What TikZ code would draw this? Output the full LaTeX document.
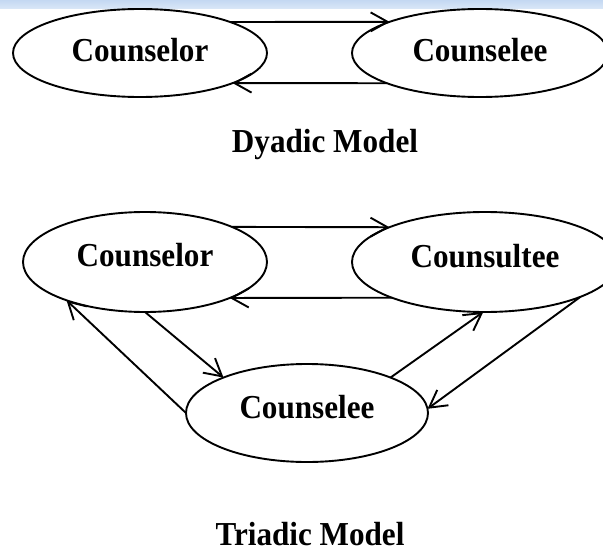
\documentclass[tikz,border=0pt]{standalone}
\usepackage{fontspec}
\setmainfont{Liberation Serif}[FakeStretch=0.93]
\usetikzlibrary{arrows.meta,shapes.geometric}
\definecolor{bartop}{RGB}{196,216,242}
\definecolor{barbot}{RGB}{216,230,247}
\begin{document}
\begin{tikzpicture}[x=1pt,y=-1pt,
  oval/.style={draw,ellipse,line width=1.9pt,inner sep=0pt,outer sep=0pt,
    font=\fontsize{33.5}{38}\selectfont\bfseries},
  title/.style={inner sep=0pt,anchor=base,font=\fontsize{33.5}{38}\selectfont\bfseries},
  link/.style={line width=1.9pt,-{Straight Barb[length=17pt,width=19pt,line width=1.9pt]}}]
\useasboundingbox (0,0) rectangle (603,554);
\fill[top color=bartop,bottom color=barbot] (0,0) rectangle (603,8);
% Dyadic
\node[oval,minimum width=254pt,minimum height=88pt,text depth=6pt] (cl1) at (140,53) {Counselor};
\node[oval,minimum width=256pt,minimum height=88pt,text depth=6pt] (ce1) at (480,53) {Counselee};
\draw[link] (cl1.19) -- (ce1.161);
\draw[link] (ce1.-162) -- (cl1.-18);
\node[title] (t1) at (325,152) {Dyadic Model};
% Triadic
\node[oval,minimum width=244pt,minimum height=100pt,text depth=14pt] (cl2) at (145,262) {Counselor};
\node[oval,minimum width=266pt,minimum height=100pt,text depth=12pt] (ct2) at (485,262) {Counsultee};
\node[oval,minimum width=242pt,minimum height=98pt,text depth=12pt] (ce2) at (307,413) {Counselee};
\draw[link] (cl2.22) -- (ct2.160);
\draw[link] (ct2.-159) -- (cl2.-23);
\draw[link] (cl2.-90) -- (ce2.157);
\draw[link] (ce2.180) -- (cl2.-154);
\draw[link] (ce2.23) -- (ct2.-92);
\draw[link] (ct2.-20) -- (ce2.2);
\node[title] (t2) at (310,545) {Triadic Model};
\end{tikzpicture}
\end{document}
